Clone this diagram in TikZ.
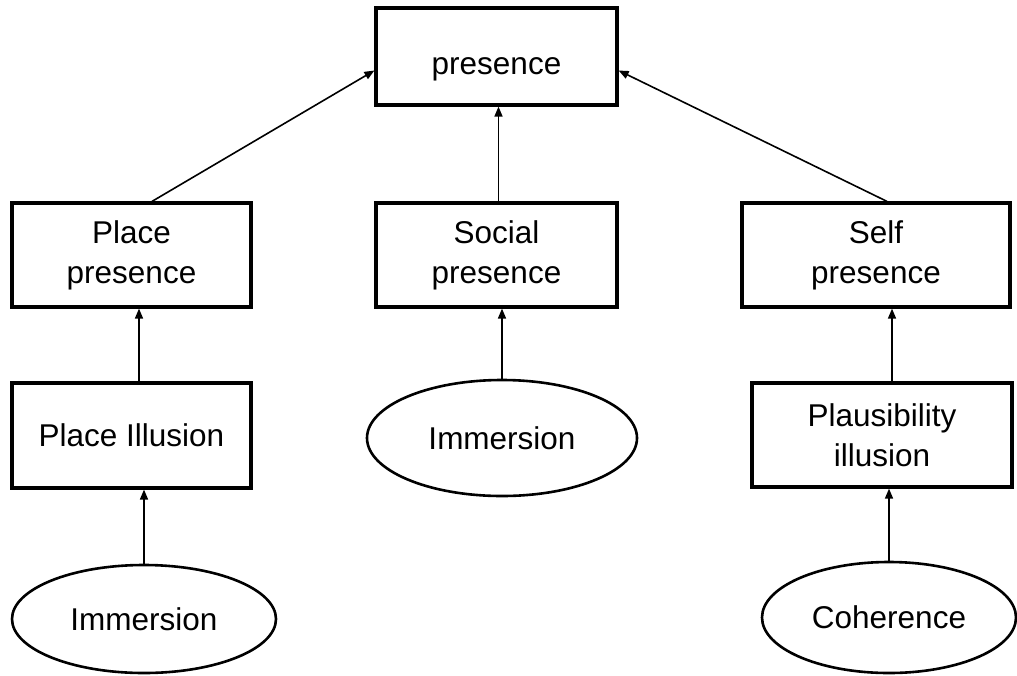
\documentclass[tikz,border=0pt]{standalone}
\usepackage{fontspec}
\setmainfont{Liberation Sans}
\usetikzlibrary{arrows.meta,shapes.geometric}
\begin{document}
\begin{tikzpicture}[x=1pt,y=-1pt,
  box/.style={draw,line width=3.2pt,rectangle,inner sep=0pt,align=center,font=\fontsize{31.5}{40}\selectfont},
  oval/.style={draw,line width=2.6pt,ellipse,inner sep=0pt,align=center,font=\fontsize{31.5}{40}\selectfont},
  link/.style={line width=1.6pt,-{Triangle[length=10pt,width=8pt]}}]
\useasboundingbox (0,0) rectangle (1017,675);
% boxes
\node[box,minimum width=241pt,minimum height=97pt] (pres) at (496.5,56.5) {\raisebox{-13pt}[\height][\depth]{presence}};
\node[box,minimum width=239pt,minimum height=104pt] (place) at (131.5,255) {Place\\presence};
\node[box,minimum width=241pt,minimum height=104pt] (social) at (496.5,255) {Social\\presence};
\node[box,minimum width=268pt,minimum height=104pt] (self) at (876,255) {Self\\presence};
\node[box,minimum width=239pt,minimum height=105pt] (pi) at (131.5,435.5) {Place Illusion};
\node[box,minimum width=260pt,minimum height=104pt] (plaus) at (882,435) {Plausibility\\illusion};
% ellipses
\node[oval,minimum width=270pt,minimum height=116pt] (imm2) at (502,438) {Immersion};
\node[oval,minimum width=264pt,minimum height=108pt] (imm1) at (144,619) {Immersion};
\node[oval,minimum width=254pt,minimum height=111pt] (coh) at (889,617.5) {Coherence};
% connectors
\draw[link] ([xshift=20.5pt]place.north) -- ([yshift=-14pt]pres.west);
\draw[link] ([xshift=11pt]self.north) -- ([yshift=-14pt]pres.east);
\draw[link] ([xshift=2pt]social.north) -- ([xshift=2pt]pres.south);
\draw[link] ([xshift=7.5pt]pi.north) -- ([xshift=7.5pt]place.south);
\draw[link] (imm1.north) -- (imm1.north |- pi.south);
\draw[link] (imm2.north) -- (imm2.north |- social.south);
\draw[link] ([xshift=10pt]plaus.north) -- ([xshift=16pt]self.south);
\draw[link] (coh.north) -- (coh.north |- plaus.south);
\end{tikzpicture}
\end{document}
